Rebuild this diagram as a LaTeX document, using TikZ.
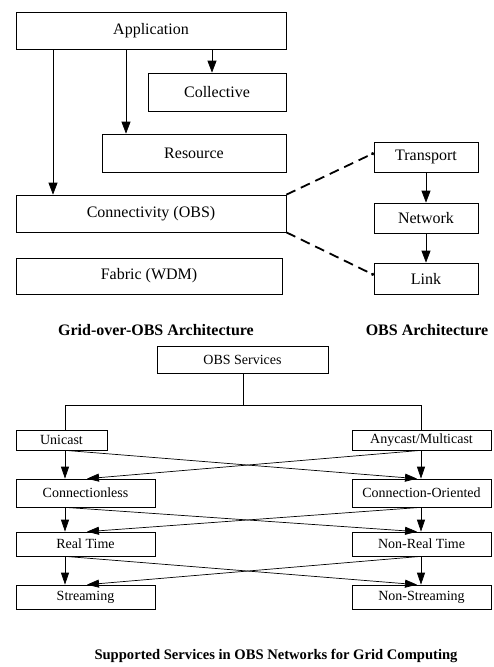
\documentclass[tikz,border=0pt]{standalone}
\usepackage{fontspec}
\setmainfont{Liberation Serif}
\usetikzlibrary{arrows.meta}

\tikzset{
  layer/.style={draw, line width=0.7pt, inner sep=0pt, font=\fontsize{16}{18}\selectfont},
  svcbox/.style={draw, line width=0.7pt, inner sep=0pt, font=\fontsize{14}{16}\selectfont},
  conn/.style={line width=0.7pt},
  arr/.style={line width=0.7pt, -{Triangle[length=12pt,width=9pt]}},
  sarr/.style={line width=0.7pt, -{Triangle[length=12pt,width=8pt]}},
  map/.style={line width=1.8pt, dash pattern=on 10pt off 6pt, -{Circle[length=3pt]}},
  caption/.style={font=\fontsize{16}{18}\selectfont\bfseries},
  smallcaption/.style={font=\fontsize{14.6}{17}\selectfont\bfseries}
}

\begin{document}
\begin{tikzpicture}[x=1pt, y=-1pt]
  \useasboundingbox (0,0) rectangle (494,667);

  % Grid-over-OBS layer stack
  \node[layer, minimum width=270pt, minimum height=37pt] (app)  at (151,30.5)  {Application};
  \node[layer, minimum width=138pt, minimum height=38pt] (coll) at (217,92)    {Collective};
  \node[layer, minimum width=184pt, minimum height=38pt] (res)  at (194,153)   {Resource};
  \node[layer, minimum width=270pt, minimum height=37pt] (cnt)  at (151,213.5) {Connectivity (OBS)};
  \node[layer, minimum width=266pt, minimum height=36pt] (fab)  at (149,276)   {Fabric (WDM)};

  \draw[arr] (app.south -| 53,0)  -- (cnt.north -| 53,0);
  \draw[arr] (app.south -| 126,0) -- (res.north -| 126,0);
  \draw[arr] (app.south -| 212,0) -- (coll.north -| 212,0);

  % OBS protocol stack
  \node[layer, minimum width=104pt, minimum height=30pt] (trans) at (426,157)   {Transport};
  \node[layer, minimum width=104pt, minimum height=30pt] (net)   at (426,218)   {Network};
  \node[layer, minimum width=104pt, minimum height=31pt] (link)  at (426,278.5) {Link};

  \draw[arr] (trans) -- (net);
  \draw[arr] (net) -- (link);

  \coordinate (tin) at (374,153);
  \coordinate (lin) at (374,275);
  \draw[map] (cnt.north east) -- (tin);
  \draw[map] (cnt.south east) -- (lin);

  \node[caption] (capgrid) at (156,330) {Grid-over-OBS Architecture};
  \node[caption] (capobs)  at (427,330) {OBS Architecture};

  % Service taxonomy
  \node[svcbox, minimum width=171pt, minimum height=27pt] (svc) at (242.5,359.5) {OBS Services};
  \node[svcbox, minimum width=91pt,  minimum height=20pt] (uni) at (61.5,440)    {Unicast};
  \node[svcbox, minimum width=139pt, minimum height=20pt] (any) at (421.5,440)   {Anycast/Multicast};
  \node[svcbox, minimum width=139pt, minimum height=28pt] (cl)  at (85.5,493)    {Connectionless};
  \node[svcbox, minimum width=139pt, minimum height=28pt] (co)  at (421.5,493)   {Connection-Oriented};
  \node[svcbox, minimum width=139pt, minimum height=24pt] (rt)  at (85.5,544)    {Real Time};
  \node[svcbox, minimum width=139pt, minimum height=24pt] (nrt) at (421.5,544)   {Non-Real Time};
  \node[svcbox, minimum width=139pt, minimum height=24pt] (st)  at (85.5,597)    {Streaming};
  \node[svcbox, minimum width=139pt, minimum height=24pt] (ns)  at (421.5,597)   {Non-Streaming};

  \coordinate (split) at (243,405);
  \draw[conn] (svc.south -| split) -- (split);
  \draw[conn] (uni.north -| 65,0) -- (65,405) -- (421,405) -- (any.north -| 421,0);

  % vertical and crossing links between the rows
  \foreach \a/\b/\c/\d in {uni/any/cl/co, cl/co/rt/nrt, rt/nrt/st/ns} {
    \draw[sarr] (\a.south -| 65,0)  -- (\c.north -| 65,0);
    \draw[sarr] (\b.south -| 421,0) -- (\d.north -| 421,0);
    \draw[sarr] (\a.south -| 65,0)  -- (\d.north -| 417,0);
    \draw[sarr] (\b.south -| 421,0) -- (\c.north -| 87,0);
  }

  \node[smallcaption] (capsvc) at (276,656) {Supported Services in OBS Networks for Grid Computing};
\end{tikzpicture}
\end{document}
